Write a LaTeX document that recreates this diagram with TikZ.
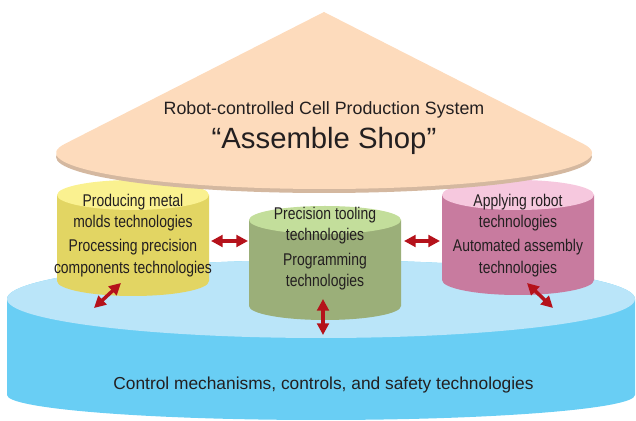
\documentclass[tikz,border=0pt]{standalone}
\usepackage{fontspec}
\setmainfont{Liberation Sans}
\newfontfamily\narrowfont[FakeStretch=0.82]{Liberation Sans}
\usepackage{tikz}
\usetikzlibrary{arrows.meta}
\definecolor{arrowRed}{RGB}{181,18,27}
\definecolor{conePeach}{RGB}{253,219,188}
\definecolor{coneRim}{RGB}{212,184,160}
\definecolor{baseSide}{RGB}{105,206,244}
\definecolor{baseTop}{RGB}{186,229,249}
\definecolor{yellowSide}{RGB}{226,213,99}
\definecolor{yellowTop}{RGB}{250,241,144}
\definecolor{greenSide}{RGB}{155,175,121}
\definecolor{greenTop}{RGB}{195,222,155}
\definecolor{pinkSide}{RGB}{200,123,159}
\definecolor{pinkTop}{RGB}{246,200,222}
\definecolor{inkGray}{RGB}{35,31,32}
\tikzset{
  techtext/.style={text=inkGray, align=center, inner sep=0pt, font=\narrowfont\fontsize{14.5}{18.4}\selectfont},
  link/.style={draw=arrowRed, line width=3pt, {Triangle[length=10pt,width=10pt]}-{Triangle[length=10pt,width=10pt]}}
}

\begin{document}
\begin{tikzpicture}[x=0.03cm, y=0.03cm]
	\useasboundingbox (0,0) rectangle (636,421);
	% base disk
	\fill[baseSide] (7,122) -- (7,26) arc (180:360:314 and 25) -- (635,122) arc (0:180:314 and 39) -- cycle;
	\fill[baseTop] (321,122) ellipse (314 and 39);
	\node[text=inkGray, font=\fontsize{14.8}{17}\selectfont] (base) at (323.5,36.4) {Control mechanisms, controls, and safety technologies};
	% the three drums
	\foreach \cx/\ty/\by/\ry/\side/\top in {133/226/140/15/yellowSide/yellowTop, 325/201/115/14/greenSide/greenTop, 518/226/141/15/pinkSide/pinkTop}{
		\fill[\side] (\cx-76,\ty) -- (\cx-76,\by) arc (180:360:76 and \ry) -- (\cx+76,\ty) -- cycle;
		\fill[\top] (\cx,\ty) ellipse (76 and \ry);
	}
	\node[techtext] (molds) at (133,208.5) {Producing metal\\molds technologies};
	\node[techtext] (parts) at (133,163) {Processing precision\\components technologies};
	\node[techtext] (tooling) at (325,195.5) {Precision tooling\\technologies};
	\node[techtext] (prog) at (325,149.5) {Programming\\technologies};
	\node[techtext] (robot) at (518,208.5) {Applying robot\\technologies};
	\node[techtext] (assembly) at (518,163) {Automated assembly\\technologies};
	% cone on top
	\fill[coneRim] (324,264) ellipse (268 and 36);
	\fill[conePeach] (324,409) -- (65,277.2) arc (165.2:374.8:268 and 36) -- cycle;
	\node[text=inkGray, font=\fontsize{15.2}{17}\selectfont] (title) at (324,311.5) {Robot-controlled Cell Production System};
	\node[text=inkGray, font=\fontsize{25}{28}\selectfont] (shop) at (324,280) {“Assemble Shop”};
	% arrows
	\coordinate (yellowR) at (211,180);
	\coordinate (greenL) at (248,180);
	\coordinate (greenR) at (404,180);
	\coordinate (pinkL) at (440,180);
	\coordinate (yellowB) at (121,138);
	\coordinate (baseYL) at (94,113);
	\coordinate (greenB) at (323,122);
	\coordinate (baseG) at (323,86);
	\coordinate (pinkB) at (527,138);
	\coordinate (basePR) at (553,113);
	\draw[link] (yellowR) -- (greenL);
	\draw[link] (greenR) -- (pinkL);
	\draw[link] (baseYL) -- (yellowB);
	\draw[link] (greenB) -- (baseG);
	\draw[link] (pinkB) -- (basePR);
\end{tikzpicture}
\end{document}
